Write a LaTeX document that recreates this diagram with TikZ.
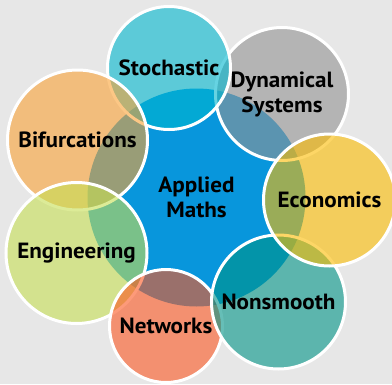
\documentclass[tikz,border=0pt]{standalone}
\usepackage{fontspec}
\setmainfont{PT Sans}[FakeStretch=1.05]
\definecolor{bg}{HTML}{E7E7E7}
\definecolor{hub}{HTML}{0896DC}
\definecolor{cStoch}{HTML}{00B7CF}
\definecolor{cDyn}{HTML}{939393}
\definecolor{cEcon}{HTML}{FCBC00}
\definecolor{cNon}{HTML}{009487}
\definecolor{cNet}{HTML}{FC5721}
\definecolor{cEng}{HTML}{C6DF53}
\definecolor{cBif}{HTML}{FAA235}
\tikzset{
  label font/.style={font=\fontsize{22}{25}\selectfont\bfseries, text=black, align=center},
  hubdisc/.style={circle, inner sep=0pt, fill=hub, label font},
  topic/.style={circle, inner sep=0pt, draw=white, line width=3pt,
    fill=#1, fill opacity=0.6, draw opacity=1, text opacity=1, label font},
}
\begin{document}
\begin{tikzpicture}[x=1pt,y=-1pt]
  \fill[bg] (0,0) rectangle (392,384);
  \useasboundingbox (0,0) rectangle (392,384);
  \node[hubdisc, minimum size=218pt] (hub) at (196.5,197.5) {Applied\\Maths};
  \node[topic=cDyn,   minimum size=133pt] (dyn)   at (282,94)    {Dynamical\\Systems};
  \node[topic=cStoch, minimum size=123pt] (stoch) at (169,68)    {Stochastic};
  \node[topic=cBif,   minimum size=140pt] (bif)   at (77.5,140)  {Bifurcations};
  \node[topic=cEng,   minimum size=141pt] (eng)   at (76.5,253)  {Engineering};
  \node[topic=cNet,   minimum size=113pt] (net)   at (166,326)   {Networks};
  \node[topic=cNon,   minimum size=134pt] (non)   at (278.5,302) {Nonsmooth};
  \node[topic=cEcon,  minimum size=132pt] (econ)  at (329.5,200) {Economics};
\end{tikzpicture}
\end{document}
